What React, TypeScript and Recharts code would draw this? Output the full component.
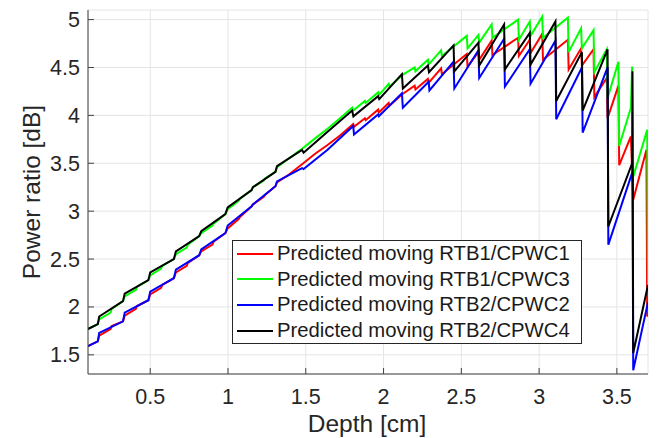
import React from 'react';
import { LineChart, Line, XAxis, YAxis, CartesianGrid, Legend } from 'recharts';

// axis ticks
const depthTicks = [0.5, 1, 1.5, 2, 2.5, 3, 3.5];
const ratioTicks = [1.5, 2, 2.5, 3, 3.5, 4, 4.5, 5];

// [depth cm, power ratio dB]
const rtb1Cpwc1: [number, number][] = [
  [0.1, 1.59], [0.163, 1.64], [0.172, 1.7], [0.245, 1.77], [0.252, 1.8], [0.325, 1.85], [0.336, 1.91],
  [0.408, 1.98], [0.415, 2.01], [0.488, 2.07], [0.5, 2.13], [0.57, 2.2], [0.578, 2.23], [0.652, 2.3],
  [0.665, 2.36], [0.735, 2.43], [0.742, 2.46], [0.815, 2.54], [0.828, 2.58], [0.9, 2.65], [0.907, 2.68],
  [0.983, 2.77], [0.998, 2.82], [1.07, 2.92], [1.077, 2.94], [1.152, 3.05], [1.16, 3.07], [1.23, 3.15],
  [1.238, 3.17], [1.305, 3.26], [1.315, 3.3], [1.39, 3.38], [1.476, 3.49], [1.56, 3.6], [1.64, 3.69],
  [1.72, 3.79], [1.805, 3.91], [1.81, 3.88], [1.88, 3.97], [1.885, 3.95], [1.965, 4.06], [1.97, 4.03],
  [2.033, 4.13], [2.038, 4.1], [2.12, 4.22], [2.2, 4.31], [2.205, 4.27], [2.285, 4.38], [2.29, 4.34],
  [2.37, 4.49], [2.375, 4.43], [2.535, 4.64], [2.54, 4.51], [2.61, 4.66], [2.615, 4.58], [2.695, 4.78],
  [2.7, 4.63], [2.865, 4.81], [2.87, 4.62], [2.94, 4.79], [2.945, 4.65], [3.02, 4.85], [3.025, 4.58],
  [3.185, 4.79], [3.19, 4.48], [3.27, 4.7], [3.275, 4.52], [3.35, 4.69], [3.355, 4.19], [3.435, 4.39],
  [3.44, 3.97], [3.51, 4.31], [3.515, 3.48], [3.59, 3.78], [3.605, 3.12], [3.69, 3.64], [3.695, 1.9],
  [3.7, 1.95],
];

const rtb1Cpwc3: [number, number][] = [
  [0.1, 1.77], [0.163, 1.82], [0.172, 1.87], [0.245, 1.94], [0.252, 1.98], [0.325, 2.06], [0.336, 2.11],
  [0.408, 2.18], [0.415, 2.21], [0.488, 2.28], [0.5, 2.33], [0.57, 2.4], [0.578, 2.43], [0.652, 2.5],
  [0.665, 2.55], [0.735, 2.62], [0.742, 2.65], [0.815, 2.74], [0.828, 2.77], [0.9, 2.85], [0.907, 2.87],
  [0.983, 2.97], [0.998, 3.02], [1.07, 3.11], [1.077, 3.13], [1.152, 3.22], [1.16, 3.25], [1.23, 3.32],
  [1.238, 3.34], [1.305, 3.41], [1.315, 3.46], [1.39, 3.55], [1.476, 3.65], [1.56, 3.76], [1.64, 3.86],
  [1.72, 3.97], [1.798, 4.08], [1.805, 4.05], [1.88, 4.15], [1.885, 4.13], [1.965, 4.24], [1.97, 4.21],
  [2.033, 4.33], [2.038, 4.3], [2.12, 4.42], [2.2, 4.5], [2.205, 4.46], [2.285, 4.58], [2.29, 4.53],
  [2.37, 4.68], [2.375, 4.62], [2.535, 4.83], [2.54, 4.7], [2.61, 4.84], [2.615, 4.76], [2.695, 4.95],
  [2.7, 4.81], [2.865, 5.0], [2.87, 4.79], [2.94, 4.98], [2.945, 4.83], [3.02, 5.03], [3.025, 4.81],
  [3.185, 5.02], [3.19, 4.66], [3.27, 4.91], [3.275, 4.7], [3.35, 4.89], [3.355, 4.45], [3.435, 4.69],
  [3.44, 4.18], [3.51, 4.56], [3.515, 3.68], [3.59, 4.08], [3.598, 4.51], [3.605, 3.36], [3.695, 3.85],
  [3.7, 2.22],
];

const rtb2Cpwc2: [number, number][] = [
  [0.1, 1.59], [0.163, 1.64], [0.172, 1.73], [0.325, 1.85], [0.336, 1.94], [0.488, 2.07], [0.5, 2.16],
  [0.652, 2.3], [0.665, 2.39], [0.815, 2.54], [0.828, 2.6], [0.983, 2.77], [0.998, 2.85], [1.152, 3.05],
  [1.16, 3.07], [1.305, 3.26], [1.315, 3.31], [1.476, 3.45], [1.486, 3.44], [1.64, 3.64], [1.805, 3.89],
  [1.81, 3.8], [1.965, 4.01], [1.97, 3.99], [2.118, 4.23], [2.124, 4.08], [2.29, 4.35], [2.295, 4.26],
  [2.45, 4.56], [2.455, 4.28], [2.61, 4.68], [2.615, 4.39], [2.775, 4.8], [2.78, 4.3], [2.94, 4.69],
  [2.945, 4.33], [3.105, 4.78], [3.11, 3.96], [3.275, 4.5], [3.28, 3.82], [3.44, 4.5], [3.445, 2.65],
  [3.6, 3.41], [3.605, 1.34], [3.7, 2.05],
];

const rtb2Cpwc4: [number, number][] = [
  [0.1, 1.77], [0.163, 1.82], [0.172, 1.9], [0.325, 2.06], [0.336, 2.14], [0.488, 2.28], [0.5, 2.36],
  [0.652, 2.5], [0.665, 2.58], [0.815, 2.74], [0.828, 2.79], [0.983, 2.97], [0.998, 3.04], [1.152, 3.22],
  [1.16, 3.25], [1.305, 3.41], [1.315, 3.47], [1.476, 3.64], [1.486, 3.61], [1.64, 3.83], [1.798, 4.05],
  [1.806, 3.99], [1.965, 4.2], [1.972, 4.17], [2.118, 4.43], [2.124, 4.28], [2.285, 4.52], [2.292, 4.45],
  [2.45, 4.73], [2.455, 4.46], [2.61, 4.76], [2.615, 4.52], [2.775, 4.95], [2.78, 4.48], [2.94, 4.86],
  [2.945, 4.53], [3.105, 4.98], [3.11, 4.15], [3.275, 4.66], [3.28, 4.05], [3.44, 4.69], [3.445, 2.84],
  [3.598, 3.5], [3.6, 4.46], [3.605, 1.52], [3.7, 2.23],
];

const series = [
  { name: 'Predicted moving RTB1/CPWC1', color: '#ff0000', points: rtb1Cpwc1 },
  { name: 'Predicted moving RTB1/CPWC3', color: '#00ff00', points: rtb1Cpwc3 },
  { name: 'Predicted moving RTB2/CPWC2', color: '#0000ff', points: rtb2Cpwc2 },
  { name: 'Predicted moving RTB2/CPWC4', color: '#000000', points: rtb2Cpwc4 },
];

const FONT = '"Liberation Sans", Arial, Helvetica, sans-serif';
const TEXT = '#262626';
const AXIS = '#404040';
const PLOT_LEFT = 88;
const PLOT_BOTTOM = 374;

const toRows = (pts: [number, number][]) => pts.map(([depth, ratio]) => ({ depth, ratio }));

const DepthTick = (props: any) => {
  const { x, payload } = props;
  return (
    <g>
      <line x1={x} x2={x} y1={PLOT_BOTTOM} y2={PLOT_BOTTOM - 6} stroke={AXIS} />
      <text x={x} y={404} textAnchor="middle" fontSize={21.5} fontFamily={FONT} fill={TEXT}>
        {payload.value}
      </text>
    </g>
  );
};

const RatioTick = (props: any) => {
  const { y, payload } = props;
  return (
    <g>
      <line x1={PLOT_LEFT} x2={PLOT_LEFT + 6} y1={y} y2={y} stroke={AXIS} />
      <text x={80} y={y + 7.5} textAnchor="end" fontSize={21.5} fontFamily={FONT} fill={TEXT}>
        {payload.value}
      </text>
    </g>
  );
};

const LegendBox = () => (
  <div
    style={{
      width: 348,
      border: '1px solid #262626',
      background: '#ffffff',
      fontFamily: FONT,
      fontSize: 20.3,
      color: '#1a1a1a',
    }}
  >
    {series.map((s) => (
      <div key={s.name} style={{ display: 'flex', alignItems: 'center', height: 25.6 }}>
        <span style={{ width: 36, height: 2, background: s.color, marginLeft: 4, marginRight: 4 }} />
        <span style={{ whiteSpace: 'nowrap' }}>{s.name}</span>
      </div>
    ))}
  </div>
);

export default function App() {
  return (
    <div style={{ position: 'absolute', left: 0, top: 0, background: '#fff' }}>
      <LineChart width={670} height={438} margin={{ top: 10, right: 22, left: 0, bottom: 0 }}>
        <CartesianGrid stroke="#e4e4e4" />
        <XAxis
          dataKey="depth"
          type="number"
          domain={[0.1, 3.7]}
          ticks={depthTicks}
          allowDataOverflow
          height={64}
          tickLine={false}
          axisLine={{ stroke: AXIS }}
          tick={<DepthTick />}
          label={{
            content: () => (
              <text x={367} y={432} textAnchor="middle" fontSize={24.5} fontFamily={FONT} fill={TEXT}>
                Depth [cm]
              </text>
            ),
          }}
        />
        <YAxis
          dataKey="ratio"
          type="number"
          domain={[1.3, 5.1]}
          ticks={ratioTicks}
          allowDataOverflow
          width={88}
          tickLine={false}
          axisLine={{ stroke: AXIS }}
          tick={<RatioTick />}
          label={{
            content: () => (
              <text
                x={31}
                y={192}
                transform="rotate(-90 31 192)"
                textAnchor="middle"
                dominantBaseline="central"
                fontSize={24.5}
                fontFamily={FONT}
                fill={TEXT}
              >
                Power ratio [dB]
              </text>
            ),
          }}
        />
        {series.map((s) => (
          <Line
            key={s.name}
            data={toRows(s.points)}
            dataKey="ratio"
            name={s.name}
            type="linear"
            stroke={s.color}
            strokeWidth={2}
            dot={false}
            activeDot={false}
            isAnimationActive={false}
          />
        ))}
        <Legend
          layout="vertical"
          align="center"
          verticalAlign="middle"
          content={<LegendBox />}
          wrapperStyle={{ left: 232, top: 240, width: 350 }}
        />
      </LineChart>
    </div>
  );
}
